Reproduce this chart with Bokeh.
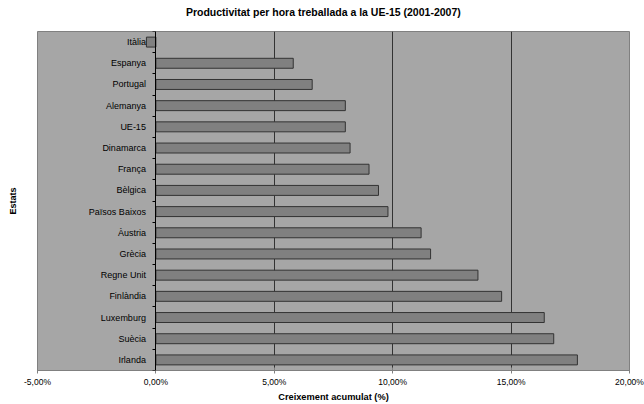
from bokeh.plotting import figure
from bokeh.models import ColumnDataSource, LinearAxis, FixedTicker, Range1d
from bokeh.embed import file_html
from bokeh.resources import INLINE

countries = ["Itàlia", "Espanya", "Portugal", "Alemanya", "UE-15", "Dinamarca",
             "França", "Bèlgica", "Països Baixos", "Àustria", "Grècia",
             "Regne Unit", "Finlàndia", "Luxemburg", "Suècia", "Irlanda"]
growth = [-0.4, 5.8, 6.6, 8.0, 8.0, 8.2, 9.0, 9.4, 9.8, 11.2, 11.6,
          13.6, 14.6, 16.4, 16.8, 17.8]
x_ticks = [-5, 0, 5, 10, 15, 20]
x_tick_labels = ["-5,00%", "0,00%", "5,00%", "10,00%", "15,00%", "20,00%"]

title_text = "Productivitat per hora treballada a la UE-15 (2001-2007)"
x_title = "Creixement acumulat (%)"
y_title = "Estats"

FONT = "Liberation Sans"

pos = list(range(len(countries)))
src = ColumnDataSource(dict(y=pos, v=growth, name=countries))

p = figure(width=644, height=404, output_backend="svg", toolbar_location=None,
           x_range=Range1d(x_ticks[0], x_ticks[-1]),
           y_range=Range1d(len(countries) - 0.5, -0.5),
           y_axis_location=None,
           min_border_left=37, min_border_right=15,
           min_border_top=31, min_border_bottom=32)

p.background_fill_color = "#A6A6A6"
p.border_fill_color = "white"
p.outline_line_color = "#808080"
p.outline_line_width = 1

p.hbar(y="y", left=0, right="v", height=0.47, source=src,
       fill_color="#808080", line_color="#333333", line_width=1)

# grid
p.xgrid.ticker = FixedTicker(ticks=x_ticks)
p.xgrid.grid_line_color = "#333333"
p.xgrid.grid_line_width = 1
p.ygrid.grid_line_color = None

# x axis
xa = p.xaxis[0]
xa.ticker = FixedTicker(ticks=x_ticks)
xa.major_label_overrides = {t: l for t, l in zip(x_ticks, x_tick_labels)}
xa.major_label_text_font = FONT
xa.major_label_text_font_size = "8.5px"
xa.major_label_text_color = "black"
xa.axis_line_color = "#808080"
xa.major_tick_line_color = "#808080"
xa.major_tick_out = 3
xa.major_tick_in = 3
xa.minor_tick_line_color = None
xa.axis_label = x_title
xa.axis_label_text_font = FONT
xa.axis_label_text_font_size = "9.25px"
xa.axis_label_text_font_style = "bold"
xa.axis_label_text_color = "black"
xa.axis_label_standoff = 2
xa.major_label_standoff = 3

# category axis at x = 0
ya = LinearAxis(fixed_location=0,
                ticker=FixedTicker(ticks=pos, minor_ticks=[i - 0.5 for i in pos] + [pos[-1] + 0.5]),
                major_label_overrides={i: c for i, c in zip(pos, countries)})
ya.major_tick_line_color = None
ya.major_tick_out = 0
ya.major_tick_in = 0
ya.minor_tick_line_color = "black"
ya.minor_tick_out = 3
ya.minor_tick_in = 0
ya.axis_line_color = "black"
ya.major_label_text_font = FONT
ya.major_label_text_font_size = "9px"
ya.major_label_text_color = "black"
ya.major_label_standoff = 7
p.add_layout(ya, "left")

# vertical axis title carried by a bare axis on the left border
yt = LinearAxis(ticker=FixedTicker(ticks=[]), axis_label=y_title)
yt.axis_line_color = None
yt.major_tick_line_color = None
yt.minor_tick_line_color = None
yt.major_tick_out = 0
yt.major_tick_in = 0
yt.major_label_standoff = 0
yt.axis_label_standoff = 20
yt.axis_label_text_font = FONT
yt.axis_label_text_font_size = "9px"
yt.axis_label_text_font_style = "bold"
yt.axis_label_text_color = "black"
p.add_layout(yt, "left")

# chart title on the top border, centred over the whole chart (not just the plot area)
span = x_ticks[-1] - x_ticks[0]
title_at = round(x_ticks[0] + 0.483 * span, 2)
tt = LinearAxis(ticker=FixedTicker(ticks=[title_at]),
                major_label_overrides={title_at: title_text})
tt.axis_line_color = None
tt.major_tick_line_color = None
tt.minor_tick_line_color = None
tt.major_tick_out = 0
tt.major_tick_in = 0
tt.major_label_standoff = 14
tt.major_label_text_font = FONT
tt.major_label_text_font_size = "10.5px"
tt.major_label_text_font_style = "bold"
tt.major_label_text_color = "black"
p.add_layout(tt, "above")

open("out.html", "w").write(file_html(p, INLINE))
